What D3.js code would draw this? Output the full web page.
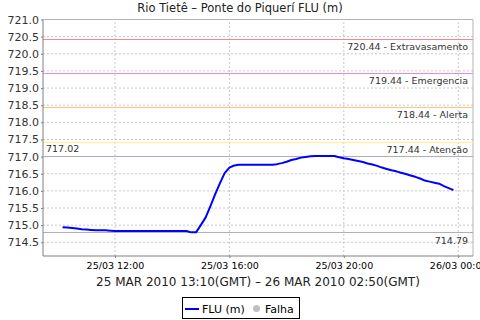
<!DOCTYPE html>
<html lang="pt">
<head>
<meta charset="UTF-8">
<title>Rio Tietê – Ponte do Piquerí FLU (m)</title>
<script src="https://d3js.org/d3.v7.min.js"></script>
<style>
    body { margin: 0; background: white; }
    svg { font-family: "DejaVu Sans", sans-serif; display: block; }
    .grid line { stroke: #c8c8c8; stroke-dasharray: 2 2; stroke-width: 1; }
    .axis path, .axis line { stroke: #808080; }
</style>
</head>
<body>
<svg></svg>
<script>
const [width, height] = [480, 320]
const margin = {top: 19.5, right: 7, bottom: 64, left: 43}

// readings every 10 min, local time on the axis
const times = ["10:10","10:20","10:30","10:40","10:50","11:00","11:10","11:20","11:30","11:40","11:50",
  "12:00","12:30","13:00","13:30","14:00","14:30","14:40","14:50","15:00","15:10","15:20","15:30",
  "15:40","15:50","16:00","16:10","16:20","16:50","17:20","17:30","17:40","17:50","18:00","18:10",
  "18:20","18:30","18:40","18:50","19:00","19:20","19:40","19:50","20:00","20:10","20:20","20:30",
  "20:40","20:50","21:00","21:10","21:20","21:30","21:40","21:50","22:00","22:10","22:20","22:30",
  "22:40","22:50","23:00","23:10","23:20","23:30","23:40","23:50"]
const levels = [714.94,714.93,714.92,714.90,714.88,714.87,714.86,714.85,714.85,714.85,714.84,
  714.83,714.83,714.83,714.83,714.83,714.83,714.79,714.79,715.00,715.22,715.55,715.90,
  716.22,716.52,716.68,716.74,716.76,716.76,716.76,716.76,716.78,716.81,716.85,716.90,
  716.93,716.97,716.99,717.01,717.02,717.02,717.02,716.98,716.95,716.93,716.90,716.87,
  716.84,716.80,716.77,716.73,716.68,716.64,716.60,716.57,716.53,716.49,716.45,716.41,
  716.36,716.30,716.27,716.24,716.21,716.14,716.08,716.02]

const limitValues = [720.44, 719.44, 718.44, 717.44]
const limitNames = ["Extravasamento", "Emergencia", "Alerta", "Atenção"]
const limitColors = ["#f08a8a", "#e68ae6", "#ffc67a", "#fff08a"]

const yTicks = d3.range(714.5, 721.01, 0.5)
const xTickTimes = ["2010-03-25T12:00", "2010-03-25T16:00", "2010-03-25T20:00", "2010-03-26T00:00"]

const parse = d3.timeParse("%Y-%m-%dT%H:%M")
const data = times.map((t, i) => ({t: parse("2010-03-25T" + t), v: levels[i]}))
const vMax = d3.max(levels), vMin = d3.min(levels)

const svg = d3.select("svg").attr("width", width).attr("height", height)
const x = d3.scaleTime()
    .domain([parse("2010-03-25T09:29"), parse("2010-03-26T00:31")])
    .range([margin.left, width - margin.right])
const y = d3.scaleLinear().domain([714.1, 721.0]).range([height - margin.bottom, margin.top])

const [x0, x1] = x.range(), [y0, y1] = y.range()
const py = v => Math.round(y(v)) + 0.5

// grid
const grid = svg.append("g").attr("class", "grid")
grid.selectAll(".h").data(yTicks).join("line")
    .attr("x1", x0).attr("x2", x1).attr("y1", d => y(d)).attr("y2", d => y(d))
grid.selectAll(".v").data(xTickTimes.map(parse)).join("line")
    .attr("x1", d => x(d)).attr("x2", d => x(d)).attr("y1", y0).attr("y2", y1)

// frame top/right
svg.append("path").attr("fill", "none").attr("stroke", "#b4b4b4")
    .attr("d", `M${x0},${y1}H${x1}V${y0}`)

// threshold lines
limitValues.forEach((v, i) => {
    svg.append("line").attr("stroke", limitColors[i]).attr("stroke-width", 1)
        .attr("x1", x0).attr("x2", x1).attr("y1", py(v)).attr("y2", py(v))
    svg.append("text").attr("x", x1 - 5).attr("y", y(v) + 11)
        .attr("text-anchor", "end").attr("font-size", 9.5).attr("fill", "#333")
        .text(`${v.toFixed(2)} - ${limitNames[i]}`)
})

// max / min lines
svg.append("line").attr("stroke", "#b0b0b0")
    .attr("x1", x0).attr("x2", x1).attr("y1", py(vMax)).attr("y2", py(vMax))
svg.append("text").attr("x", x0 + 3).attr("y", y(vMax) - 4)
    .attr("font-size", 9.5).attr("fill", "#333").text(vMax.toFixed(2))
svg.append("line").attr("stroke", "#b0b0b0")
    .attr("x1", x0).attr("x2", x1).attr("y1", py(vMin)).attr("y2", py(vMin))
svg.append("text").attr("x", x1 - 5).attr("y", y(vMin) + 11.5)
    .attr("text-anchor", "end").attr("font-size", 9.5).attr("fill", "#333").text(vMin.toFixed(2))

// axes
const yAxis = svg.append("g").attr("class", "axis").attr("transform", `translate(${x0},0)`)
    .call(d3.axisLeft(y).tickValues(yTicks).tickFormat(d3.format(".1f")).tickSize(2).tickPadding(2))
yAxis.selectAll("text").attr("font-size", 11).attr("fill", "#333").attr("font-family", "DejaVu Sans")
yAxis.select(".domain").attr("d", `M0,${y1}V${y0}`)

const xAxis = svg.append("g").attr("class", "axis").attr("transform", `translate(0,${y0})`)
    .call(d3.axisBottom(x).tickValues(xTickTimes.map(parse)).tickFormat(d3.timeFormat("%d/%m %H:%M"))
        .tickSize(2).tickPadding(4))
xAxis.selectAll("text").attr("font-size", 9.5).attr("fill", "#000").attr("font-family", "DejaVu Sans")
xAxis.select(".domain").attr("d", `M${x0},0H${x1}`)

// series
svg.append("path").datum(data)
    .attr("fill", "none").attr("stroke", "#0000ff").attr("stroke-width", 2)
    .attr("stroke-linejoin", "round")
    .attr("d", d3.line().x(d => x(d.t)).y(d => y(d.v)))

// titles
svg.append("text").attr("x", width / 2).attr("y", 12).attr("text-anchor", "middle")
    .attr("font-size", 11.5).attr("fill", "#222").text("Rio Tietê – Ponte do Piquerí FLU (m)")
svg.append("text").attr("x", (x0 + x1) / 2).attr("y", 286).attr("text-anchor", "middle")
    .attr("font-size", 12).attr("fill", "#222")
    .text("25 MAR 2010 13:10(GMT) – 26 MAR 2010 02:50(GMT)")

// legend
const lg = svg.append("g")
lg.append("rect").attr("x", 182.5).attr("y", 297.5).attr("width", 117).attr("height", 21)
    .attr("fill", "white").attr("stroke", "black")
lg.append("line").attr("x1", 185).attr("x2", 199).attr("y1", 309).attr("y2", 309)
    .attr("stroke", "#0000ff").attr("stroke-width", 2)
lg.append("text").attr("x", 202).attr("y", 313).attr("font-size", 11).text("FLU (m)")
lg.append("circle").attr("cx", 256.5).attr("cy", 308.5).attr("r", 3.5).attr("fill", "#c0c0c0")
lg.append("text").attr("x", 265).attr("y", 313).attr("font-size", 11).text("Falha")
</script>
</body>
</html>
